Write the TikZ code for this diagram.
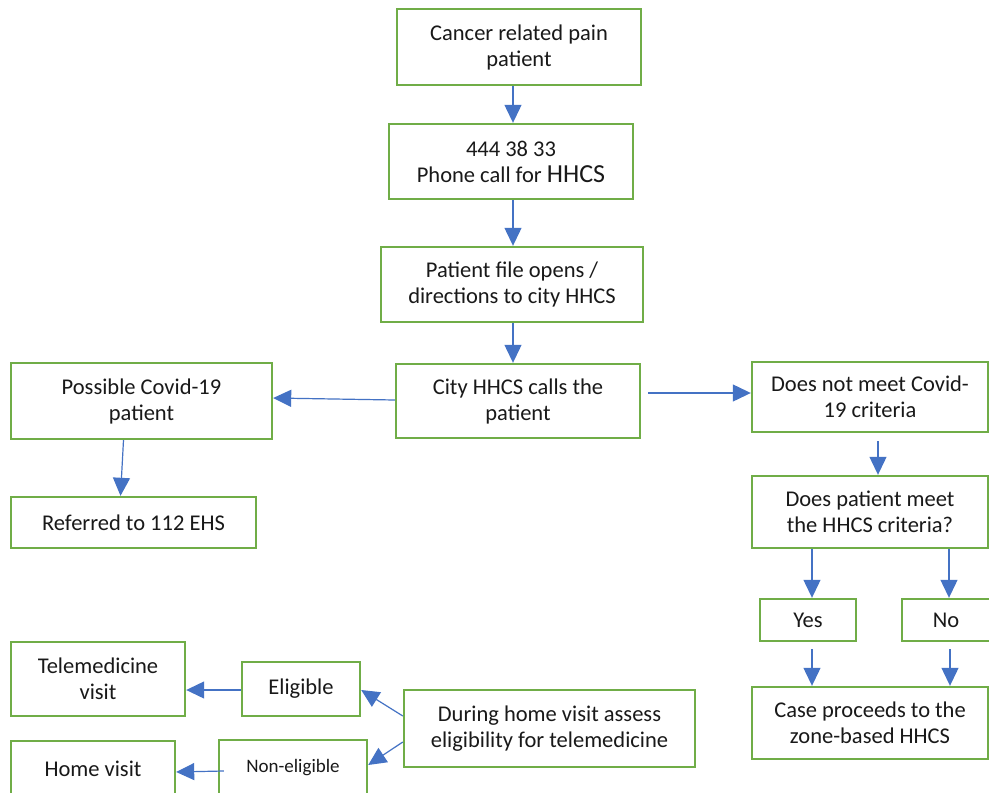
\documentclass[tikz,border=0pt]{standalone}
\usepackage{fontspec}
\setmainfont{Carlito}
\usetikzlibrary{arrows.meta}
\definecolor{boxgreen}{HTML}{70AD47}
\definecolor{arrblue}{HTML}{4472C4}
\begin{document}
\begin{tikzpicture}[x=1pt,y=-1pt,
  box/.style={draw=boxgreen, line width=2.4pt, align=center, inner sep=0pt,
     font=\fontsize{22.5}{26}\selectfont, text=black!90},
  arr/.style={draw=arrblue, line width=1.2pt, -{Triangle[length=18pt,width=17pt,fill=arrblue]}}]
\useasboundingbox (0,0) rectangle (989,793);
\fill[white] (0,0) rectangle (989,793);
\node[box, minimum width=244, minimum height=76] (cancer) at (519,47) {Cancer related pain\\patient};
\node[box, minimum width=244, minimum height=75] (phone) at (511,161.5) {444 38 33\\Phone call for {\fontsize{26}{26}\selectfont HHCS}};
\node[box, minimum width=262, minimum height=75] (file) at (512,284.5) {Patient file opens /\\directions to city HHCS};
\node[box, minimum width=244, minimum height=74] (city) at (518,401) {City HHCS calls the\\patient};
\node[box, minimum width=261, minimum height=76] (covid) at (141.5,401) {Possible Covid-19\\patient};
\node[box, minimum width=245, minimum height=51] (ref) at (133.5,522.5) {Referred to 112 EHS};
\node[box, minimum width=236, minimum height=70] (notmeet) at (870,397) {Does not meet Covid-\\19 criteria};
\node[box, minimum width=236, minimum height=72] (meet) at (870,512) {Does patient meet\\the HHCS criteria?};
\node[box, minimum width=96, minimum height=42] (yes) at (808,620) {Yes};
\node[box, minimum width=88, minimum height=42] (no) at (946,620) {No};
\node[box, minimum width=236, minimum height=72] (case) at (870,723) {Case proceeds to the\\zone-based HHCS};
\node[box, minimum width=291, minimum height=77] (during) at (549.5,728.5) {During home visit assess\\eligibility for telemedicine};
\node[box, minimum width=174, minimum height=74] (tele) at (98,679) {Telemedicine\\visit};
\node[box, minimum width=118, minimum height=54] (elig) at (301,689) {Eligible};
\node[box, minimum width=164, minimum height=56] (home) at (93,769) {Home visit};
\node[box, minimum width=148, minimum height=56, font=\fontsize{19}{22}\selectfont] (nonelig) at (293,768) {Non-eligible};
% arrows
\draw[arr] ([xshift=-6pt]cancer.south) -- ([xshift=-6pt]cancer.south |- phone.north);
\draw[arr] ([xshift=2pt]phone.south) -- ([xshift=2pt]phone.south |- file.north);
\draw[arr] ([xshift=1pt]file.south) -- ([xshift=1pt]file.south |- city.north);
\draw[arr] ([yshift=1pt]city.west) -- ([yshift=3pt]covid.east);
\draw[arr] ([xshift=7pt,yshift=8pt]city.east) -- ([yshift=4pt]notmeet.west);
\draw[arr] ([xshift=-18pt]covid.south) -- ([xshift=-13pt]ref.north);
\draw[arr] ([xshift=8pt,yshift=-8pt]notmeet.south) -- ([xshift=8pt]notmeet.south |- meet.north);
\draw[arr] ([xshift=4pt]meet.south -| yes.north) -- ([xshift=4pt]yes.north);
\draw[arr] ([xshift=3pt]meet.south -| no.north) -- ([xshift=3pt]no.north);
\draw[arr] ([xshift=4pt,yshift=-7pt]yes.south) -- ([xshift=4pt]yes.south |- case.north);
\draw[arr] ([xshift=4pt,yshift=-7pt]no.south) -- ([xshift=4pt]no.south |- case.north);
\draw[arr] ([yshift=12.5pt]during.west) -- ([yshift=-1pt]elig.east);
\draw[arr] ([yshift=-13.5pt]during.west) -- ([yshift=3pt]nonelig.east);
\draw[arr] ([yshift=-1pt]elig.west) -- ([yshift=-11pt]tele.east);
\draw[arr] ([xshift=6pt,yshift=-3pt]nonelig.west) -- ([yshift=-3pt]home.east);
\end{tikzpicture}
\end{document}
